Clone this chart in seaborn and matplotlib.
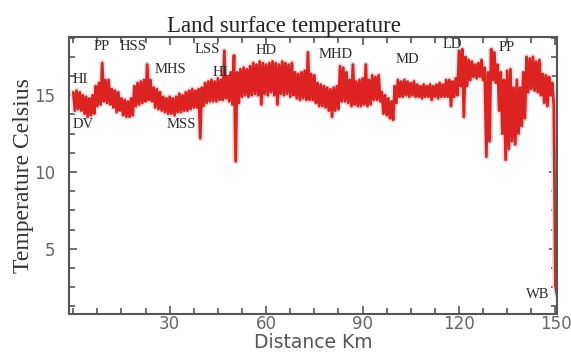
import numpy as np
import pandas as pd
import matplotlib
matplotlib.use("Agg")
import matplotlib.pyplot as plt
from matplotlib.ticker import MultipleLocator
import seaborn as sns

# --------------------------------------------------------------------
# DATA (1 km steps)
# --------------------------------------------------------------------
distance_km = list(range(0, 151))

# upper edge of the noisy band at each km
temp_high = [
    15.2, 15.3, 15.2, 15.0, 14.9, 14.8, 15.0, 15.6, 15.8, 17.1,
    16.0, 16.0, 15.4, 15.3, 15.2, 14.8, 14.7, 14.6, 14.8, 15.6,
    15.8, 15.9, 16.0, 17.0, 16.0, 15.5, 15.4, 15.2, 14.9, 14.8,
    14.9, 14.8, 14.9, 15.1, 15.0, 15.2, 15.3, 15.4, 15.3, 15.4,
    15.5, 15.8, 15.9, 16.0, 15.9, 16.1, 16.0, 17.9, 16.2, 16.5,
    17.6, 16.5, 16.7, 16.8, 16.7, 16.9, 17.1, 17.0, 17.2, 17.1,
    17.0, 17.1, 17.2, 17.1, 17.0, 17.2, 17.1, 17.0, 17.1, 16.5,
    16.4, 16.5, 16.6, 17.8, 16.4, 16.3, 15.8, 15.7, 15.6, 15.5,
    15.4, 15.5, 15.6, 16.9, 16.8, 16.5, 16.0, 17.0, 15.9, 16.0,
    16.1, 17.0, 16.0, 16.3, 16.2, 16.3, 15.2, 15.0, 14.8, 14.6,
    15.6, 16.0, 15.9, 16.0, 15.9, 15.8, 15.9, 15.7, 15.6, 15.7,
    15.6, 15.7, 15.6, 15.7, 15.8, 15.7, 16.0, 16.0, 15.9, 16.1,
    17.9, 18.0, 17.5, 17.3, 17.2, 17.0, 17.1, 17.3, 16.8, 16.5,
    18.0, 17.8, 17.0, 16.5, 16.0, 16.6, 16.7, 15.5, 16.0, 15.5,
    16.5, 17.5, 17.4, 17.5, 17.2, 17.3, 16.4, 16.3, 16.2, 15.8,
    2.6,
]

# lower edge of the noisy band at each km
temp_low = [
    14.0, 14.1, 14.0, 13.8, 13.6, 13.7, 13.8, 14.3, 14.4, 14.6,
    14.5, 14.4, 14.2, 13.9, 14.0, 13.7, 13.6, 13.6, 13.7, 14.3,
    14.4, 14.5, 14.6, 14.7, 14.6, 14.2, 14.1, 14.0, 13.9, 13.8,
    13.8, 13.7, 13.9, 13.9, 14.0, 14.0, 14.1, 14.2, 14.2, 12.2,
    14.3, 14.5, 14.6, 14.6, 14.6, 14.7, 14.7, 14.8, 14.6, 14.4,
    10.7, 14.5, 14.9, 15.0, 14.9, 15.0, 15.1, 15.0, 14.4, 15.1,
    15.0, 15.2, 15.0, 14.4, 15.1, 15.0, 15.1, 14.9, 15.0, 14.8,
    14.7, 14.8, 14.7, 14.7, 14.7, 14.5, 14.3, 14.3, 14.2, 14.0,
    13.6, 14.0, 14.1, 14.6, 14.6, 14.5, 14.3, 14.4, 14.3, 14.3,
    14.4, 14.3, 14.4, 14.7, 14.7, 14.6, 13.8, 13.7, 13.5, 13.4,
    14.5, 14.9, 14.9, 15.0, 14.9, 15.0, 14.9, 14.9, 14.8, 14.9,
    14.9, 14.7, 14.9, 14.8, 14.9, 14.9, 14.9, 14.3, 14.9, 15.0,
    15.6, 13.6, 15.6, 16.0, 16.2, 16.1, 16.2, 16.0, 11.0, 12.0,
    16.0, 15.8, 14.0, 12.5, 10.8, 11.5, 12.0, 11.8, 12.5, 13.0,
    13.5, 15.2, 15.4, 15.3, 15.2, 15.0, 14.5, 14.3, 15.0, 14.3,
    2.0,
]

# zone labels: (text, km, temperature)
zone_names = ["HI", "DV", "PP", "HSS", "MHS", "MSS", "LSS", "HL",
              "HD", "MHD", "MD", "LD", "PP", "WB"]
zone_km = [2.3, 3.2, 8.8, 18.5, 30.3, 33.5, 41.8, 46.3,
           60.0, 81.7, 104.0, 118.0, 135.0, 144.5]
zone_temp = [16.0, 13.1, 18.2, 18.2, 16.7, 13.1, 18.0, 16.5,
             17.9, 17.65, 17.3, 18.3, 18.1, 2.0]

# interleave high/low so the line zigzags like the original trace
rows = []
for d, hi, lo in zip(distance_km, temp_high, temp_low):
    rows.append((d, hi))
    rows.append((d + 0.5, lo))
df = pd.DataFrame(rows, columns=["distance", "temperature"])

# --------------------------------------------------------------------
# PLOT
# --------------------------------------------------------------------
sns.set_style("ticks")
plt.rcParams["font.family"] = ["DejaVu Sans"]

fig = plt.figure(figsize=(5.71, 3.52), dpi=100)
ax = fig.add_axes([0.121, 0.108, 0.854, 0.787])

# faint grey shadow behind the red trace
sns.lineplot(data=df, x="distance", y="temperature", sort=False,
             estimator=None, color="#e2e2e2", linewidth=4.5, ax=ax)
sns.lineplot(data=df, x="distance", y="temperature", sort=False,
             estimator=None, color="#dd2222", linewidth=2.0, ax=ax)

for name, d, t in zip(zone_names, zone_km, zone_temp):
    ax.text(d, t, name, ha="center", va="center", fontsize=10.5,
            family="Liberation Serif", color="#2a2a2a")

ax.set_xlim(-1.3, 150.4)
ax.set_ylim(0.75, 18.8)
ax.xaxis.set_major_locator(MultipleLocator(30))
ax.xaxis.set_minor_locator(MultipleLocator(7.5))
ax.yaxis.set_major_locator(MultipleLocator(5))
ax.yaxis.set_minor_locator(MultipleLocator(1.25))
ax.set_xticks([30, 60, 90, 120, 150])
ax.set_yticks([5, 10, 15])

ax.tick_params(which="both", direction="in", top=True, right=True,
               color="#555555", width=1.2, labelsize=12,
               labelcolor="#666666")
ax.tick_params(which="major", length=6)
ax.tick_params(which="minor", length=4)
ax.tick_params(axis="y", pad=10)
ax.tick_params(axis="x", pad=1)
for sp in ax.spines.values():
    sp.set_color("#555555")
    sp.set_linewidth(1.5)

ax.set_title("Land surface temperature", family="Liberation Serif",
             fontsize=16.5, color="#222222", x=0.44, pad=3)
ax.set_xlabel("Distance Km", fontsize=13.5, color="#555555", labelpad=0)
ax.set_ylabel("Temperature Celsius", family="Liberation Serif",
              fontsize=17, color="#333333", labelpad=0)

fig.savefig("out.png", dpi=100)
